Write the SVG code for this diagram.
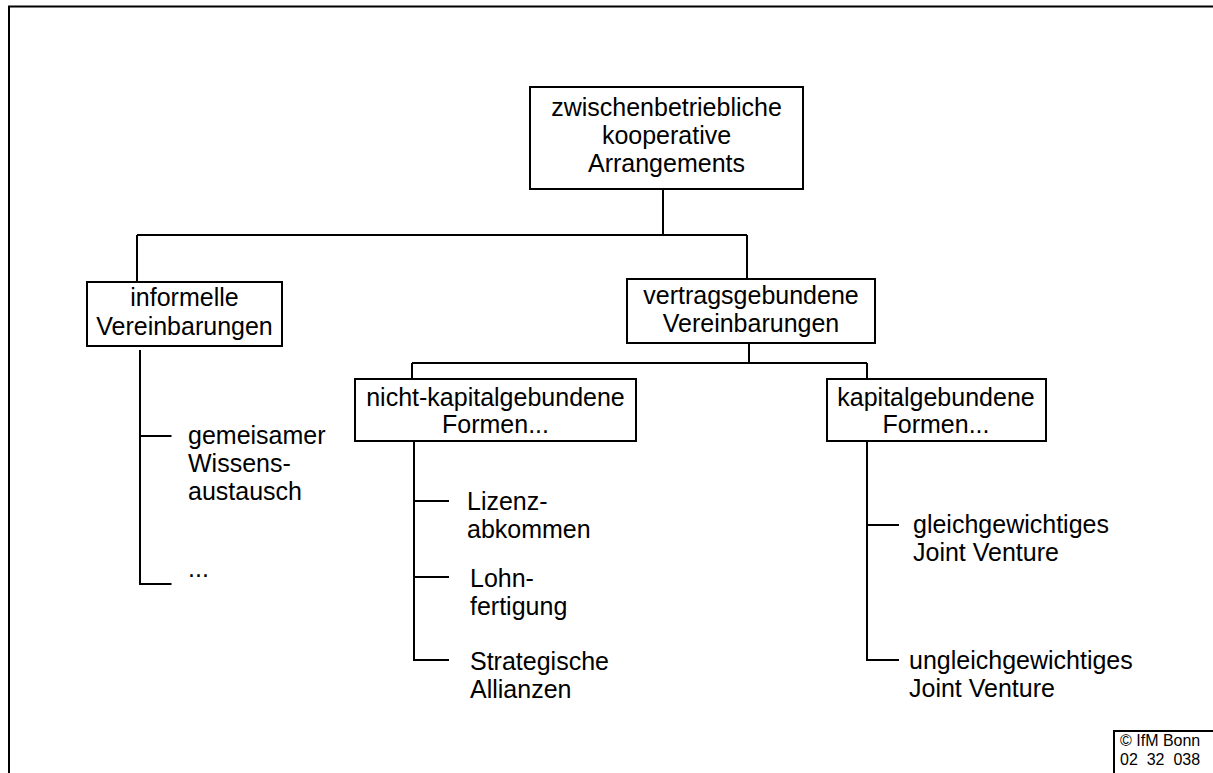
<svg xmlns="http://www.w3.org/2000/svg" width="1213" height="773" viewBox="0 0 1213 773">
<style>
.t{font-family:"Liberation Sans",Arial,sans-serif;font-size:25px;fill:#000}
.c{text-anchor:middle}
.box{fill:#fff;stroke:#000;stroke-width:2}
.ln{stroke:#000;stroke-width:2;fill:none}
.sm{font-family:"Liberation Sans",Arial,sans-serif;font-size:16px;fill:#000}
</style>
<rect width="1213" height="773" fill="#fff"/>
<g id="frame">
<path class="ln" d="M9,773 V6.5 H1213" stroke-width="2.5"/>
</g>
<g id="connectors">
<path class="ln" d="M663,189 V235"/>
<path class="ln" d="M137,235 H747"/>
<path class="ln" d="M137,235 V282"/>
<path class="ln" d="M747,235 V279"/>
<path class="ln" d="M749,343 V363"/>
<path class="ln" d="M412,363 H867"/>
<path class="ln" d="M412,363 V379"/>
<path class="ln" d="M867,363 V379"/>
<path class="ln" d="M140,350 V584 H171.5"/>
<path class="ln" d="M140,436 H171.5"/>
<path class="ln" d="M414,441 V660 H449"/>
<path class="ln" d="M414,501 H449"/>
<path class="ln" d="M414,577 H449"/>
<path class="ln" d="M867,441 V660 H899"/>
<path class="ln" d="M867,525 H899"/>
</g>
<g id="root">
<rect class="box" x="530" y="87" width="273" height="102"/>
<text class="t c" x="666.5" y="116">zwischenbetriebliche</text>
<text class="t c" x="666.5" y="144">kooperative</text>
<text class="t c" x="666.5" y="172">Arrangements</text>
</g>
<g id="informelle">
<rect class="box" x="87" y="282" width="195" height="64"/>
<text class="t c" x="184.5" y="306">informelle</text>
<text class="t c" x="184.5" y="335">Vereinbarungen</text>
</g>
<g id="vertragsgebundene">
<rect class="box" x="627" y="279" width="248" height="64"/>
<text class="t c" x="751" y="304">vertragsgebundene</text>
<text class="t c" x="751" y="332">Vereinbarungen</text>
</g>
<g id="nichtkapital">
<rect class="box" x="355" y="379" width="281" height="62"/>
<text class="t c" x="495.5" y="406">nicht-kapitalgebundene</text>
<text class="t c" x="495.5" y="433">Formen...</text>
</g>
<g id="kapital">
<rect class="box" x="827" y="379" width="219" height="62"/>
<text class="t c" x="936" y="406">kapitalgebundene</text>
<text class="t c" x="936" y="433">Formen...</text>
</g>
<g id="wissen">
<text class="t" x="188" y="444">gemeisamer</text>
<text class="t" x="188" y="472">Wissens-</text>
<text class="t" x="188" y="500">austausch</text>
</g>
<g id="dots">
<text class="t" x="188" y="577">...</text>
</g>
<g id="lizenz">
<text class="t" x="467" y="510">Lizenz-</text>
<text class="t" x="467" y="538">abkommen</text>
</g>
<g id="lohn">
<text class="t" x="470" y="587">Lohn-</text>
<text class="t" x="470" y="615">fertigung</text>
</g>
<g id="strategisch">
<text class="t" x="470" y="670">Strategische</text>
<text class="t" x="470" y="698">Allianzen</text>
</g>
<g id="gleich">
<text class="t" x="913" y="533">gleichgewichtiges</text>
<text class="t" x="913" y="561">Joint Venture</text>
</g>
<g id="ungleich">
<text class="t" x="909" y="669">ungleichgewichtiges</text>
<text class="t" x="909" y="697">Joint Venture</text>
</g>
<g id="copyright">
<path class="ln" d="M1114,773 V731 H1213" stroke-width="1.5"/>
<text class="sm" x="1120" y="746">© IfM Bonn</text>
<text class="sm" x="1120" y="765" style="white-space:pre">02  32  038</text>
</g>
</svg>
